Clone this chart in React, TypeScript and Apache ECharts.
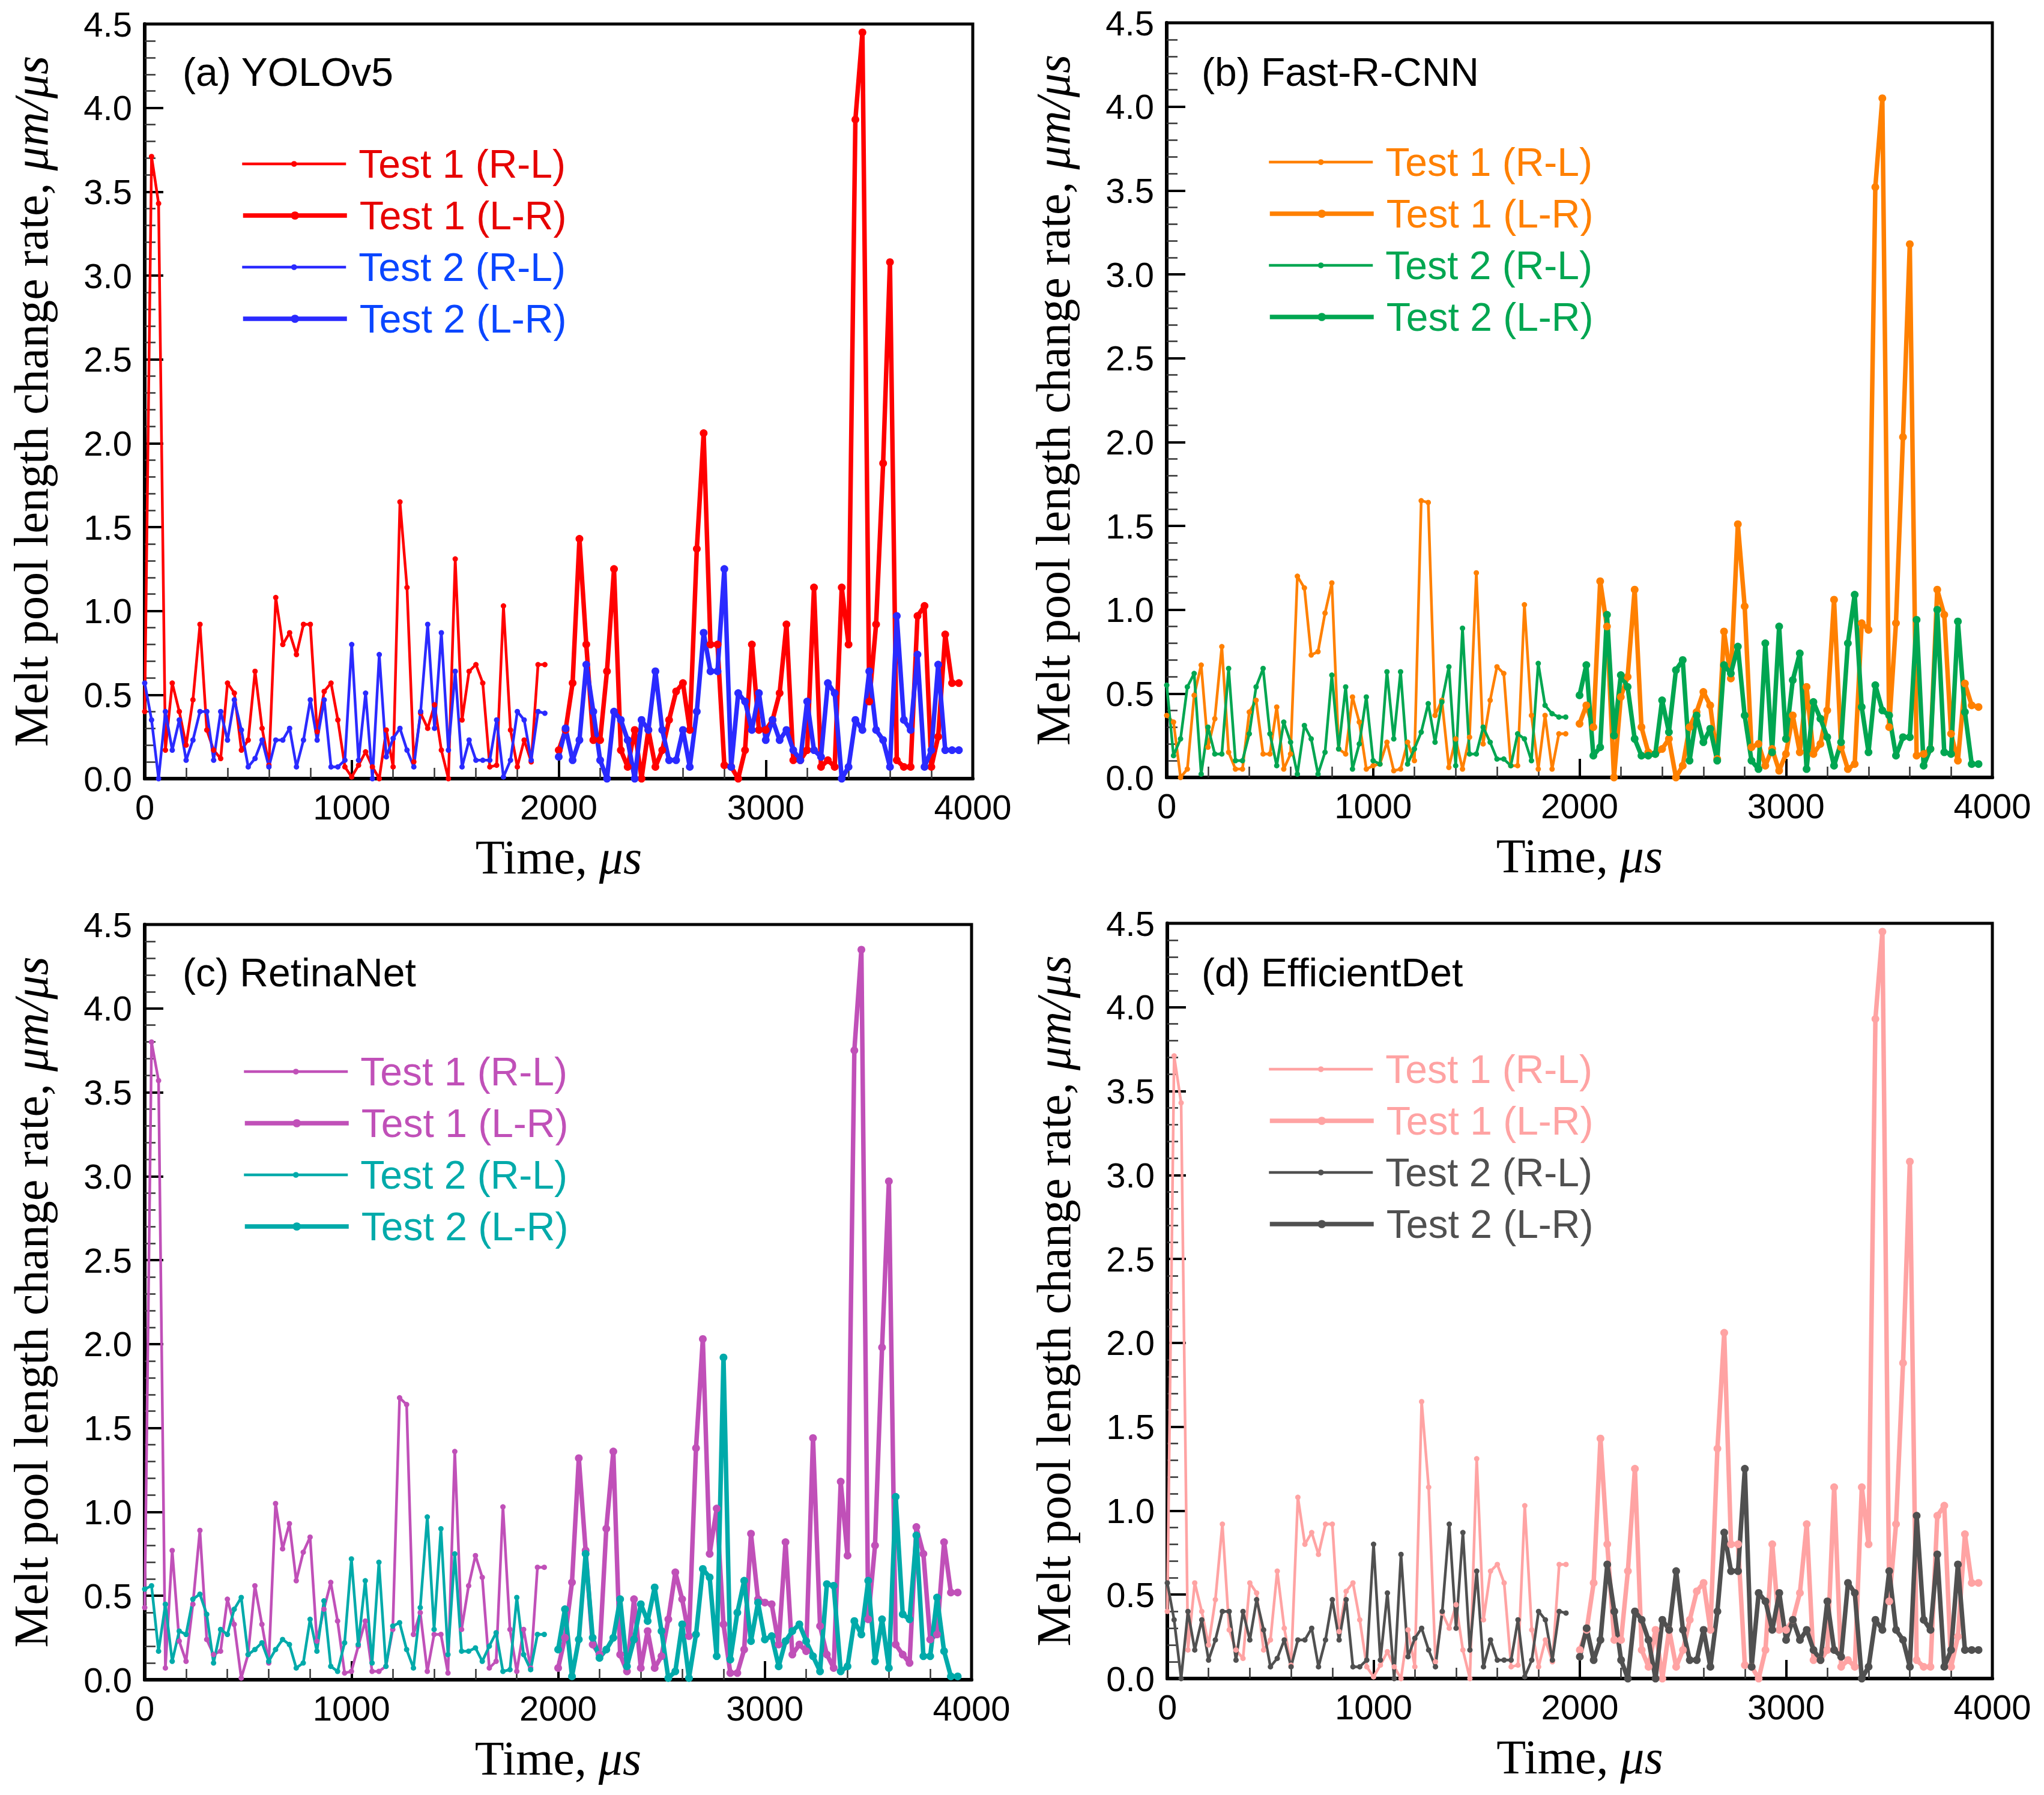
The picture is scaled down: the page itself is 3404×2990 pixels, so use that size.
import React, { useEffect, useRef } from "react";
import * as echarts from "echarts";

// Sampling times (µs)
const TIME_RL = [0, 33, 67, 100, 133, 167, 200, 233, 267, 300, 333, 367, 400, 433, 467, 500, 533, 567, 600, 633, 667, 700, 733, 767, 800, 833, 867, 900, 933, 967, 1000, 1033, 1067, 1100, 1133, 1167, 1200, 1233, 1267, 1300, 1333, 1367, 1400, 1433, 1467, 1500, 1533, 1567, 1600, 1633, 1667, 1700, 1733, 1767, 1800, 1833, 1867, 1900, 1933];
const TIME_LR = [2000, 2033, 2067, 2100, 2133, 2167, 2200, 2233, 2267, 2300, 2333, 2367, 2400, 2433, 2467, 2500, 2533, 2567, 2600, 2633, 2667, 2700, 2733, 2767, 2800, 2833, 2867, 2900, 2933, 2967, 3000, 3033, 3067, 3100, 3133, 3167, 3200, 3233, 3267, 3300, 3333, 3367, 3400, 3433, 3467, 3500, 3533, 3567, 3600, 3633, 3667, 3700, 3733, 3767, 3800, 3833, 3867, 3900, 3933];

// (a) YOLOv5  (also used by (d) EfficientDet)
const YOLO_T1_RL = [0.40, 3.71, 3.43, 0.17, 0.57, 0.40, 0.20, 0.47, 0.92, 0.29, 0.17, 0.12, 0.57, 0.51, 0.17, 0.23, 0.64, 0.30, 0.08, 1.08, 0.80, 0.87, 0.74, 0.92, 0.92, 0.28, 0.52, 0.57, 0.35, 0.07, 0.01, 0.08, 0.16, 0.07, 0.00, 0.29, 0.07, 1.65, 1.14, 0.10, 0.39, 0.30, 0.44, 0.17, 0.00, 1.31, 0.35, 0.64, 0.68, 0.57, 0.07, 0.08, 1.03, 0.29, 0.07, 0.23, 0.10, 0.68, 0.68];
const YOLO_T1_LR = [0.17, 0.29, 0.57, 1.43, 0.80, 0.23, 0.23, 0.64, 1.25, 0.17, 0.07, 0.29, 0.00, 0.29, 0.07, 0.17, 0.35, 0.52, 0.57, 0.29, 1.37, 2.06, 0.80, 0.80, 0.08, 0.07, 0.00, 0.17, 0.80, 0.29, 0.29, 0.35, 0.51, 0.92, 0.11, 0.11, 0.17, 1.14, 0.07, 0.11, 0.07, 1.14, 0.80, 3.93, 4.45, 0.46, 0.92, 1.88, 3.08, 0.11, 0.07, 0.07, 0.97, 1.03, 0.07, 0.25, 0.86, 0.57, 0.57];
const YOLO_T2_RL = [0.57, 0.35, 0.00, 0.40, 0.17, 0.35, 0.11, 0.23, 0.40, 0.40, 0.11, 0.40, 0.23, 0.47, 0.29, 0.07, 0.12, 0.23, 0.07, 0.23, 0.23, 0.30, 0.07, 0.23, 0.47, 0.23, 0.47, 0.07, 0.07, 0.11, 0.80, 0.11, 0.51, 0.00, 0.74, 0.13, 0.24, 0.30, 0.17, 0.07, 0.40, 0.92, 0.30, 0.87, 0.17, 0.64, 0.07, 0.23, 0.11, 0.11, 0.11, 0.35, 0.01, 0.11, 0.40, 0.35, 0.11, 0.40, 0.39];
const YOLO_T2_LR = [0.13, 0.30, 0.11, 0.23, 0.68, 0.40, 0.11, 0.00, 0.40, 0.35, 0.23, 0.00, 0.35, 0.29, 0.64, 0.29, 0.11, 0.11, 0.29, 0.07, 0.40, 0.87, 0.64, 0.64, 1.25, 0.07, 0.51, 0.46, 0.29, 0.51, 0.23, 0.35, 0.23, 0.29, 0.17, 0.11, 0.46, 0.17, 0.13, 0.57, 0.51, 0.00, 0.07, 0.35, 0.29, 0.64, 0.29, 0.23, 0.07, 0.97, 0.35, 0.29, 0.74, 0.07, 0.17, 0.68, 0.17, 0.17, 0.17];

// (b) Fast-R-CNN
const FRCNN_T1_RL = [0.37, 0.33, 0.00, 0.05, 0.49, 0.67, 0.18, 0.35, 0.78, 0.15, 0.05, 0.05, 0.39, 0.46, 0.14, 0.14, 0.42, 0.05, 0.14, 1.20, 1.13, 0.73, 0.75, 0.98, 1.16, 0.17, 0.14, 0.48, 0.33, 0.05, 0.07, 0.08, 0.21, 0.04, 0.05, 0.21, 0.10, 1.65, 1.64, 0.37, 0.46, 0.06, 0.23, 0.05, 0.24, 1.22, 0.20, 0.46, 0.66, 0.62, 0.07, 0.07, 1.03, 0.37, 0.05, 0.37, 0.05, 0.26, 0.26];
const FRCNN_T1_LR = [0.32, 0.43, 0.30, 1.17, 0.90, 0.00, 0.48, 0.60, 1.12, 0.30, 0.15, 0.14, 0.17, 0.23, 0.00, 0.07, 0.30, 0.39, 0.51, 0.43, 0.11, 0.87, 0.59, 1.51, 1.02, 0.18, 0.20, 0.07, 0.17, 0.04, 0.14, 0.37, 0.15, 0.54, 0.14, 0.20, 0.40, 1.06, 0.18, 0.05, 0.08, 0.92, 0.88, 3.52, 4.05, 0.30, 0.92, 2.03, 3.18, 0.13, 0.14, 0.17, 1.12, 0.97, 0.26, 0.10, 0.56, 0.43, 0.42];
const FRCNN_T2_RL = [0.55, 0.13, 0.23, 0.54, 0.62, 0.02, 0.30, 0.14, 0.14, 0.65, 0.10, 0.10, 0.26, 0.54, 0.65, 0.26, 0.07, 0.33, 0.21, 0.02, 0.31, 0.23, 0.02, 0.15, 0.61, 0.17, 0.54, 0.05, 0.20, 0.48, 0.10, 0.08, 0.63, 0.23, 0.63, 0.08, 0.17, 0.27, 0.44, 0.21, 0.45, 0.66, 0.07, 0.89, 0.14, 0.14, 0.30, 0.21, 0.11, 0.11, 0.07, 0.26, 0.23, 0.10, 0.68, 0.43, 0.38, 0.36, 0.36];
const FRCNN_T2_LR = [0.49, 0.67, 0.13, 0.18, 0.97, 0.25, 0.61, 0.54, 0.23, 0.13, 0.13, 0.14, 0.46, 0.27, 0.64, 0.70, 0.10, 0.37, 0.21, 0.29, 0.10, 0.67, 0.62, 0.78, 0.37, 0.10, 0.05, 0.80, 0.15, 0.90, 0.23, 0.58, 0.74, 0.05, 0.45, 0.35, 0.24, 0.07, 0.21, 0.80, 1.09, 0.42, 0.15, 0.55, 0.40, 0.37, 0.13, 0.24, 0.24, 0.94, 0.07, 0.17, 1.00, 0.15, 0.14, 0.93, 0.39, 0.08, 0.08];

// (c) RetinaNet
const RETINA_T1_RL = [0.43, 3.80, 3.57, 0.07, 0.77, 0.23, 0.11, 0.45, 0.89, 0.24, 0.15, 0.17, 0.48, 0.33, 0.01, 0.15, 0.56, 0.33, 0.10, 1.05, 0.78, 0.93, 0.59, 0.76, 0.85, 0.23, 0.42, 0.58, 0.35, 0.04, 0.05, 0.20, 0.35, 0.05, 0.05, 0.08, 0.30, 1.68, 1.64, 0.27, 0.40, 0.05, 0.27, 0.27, 0.04, 1.36, 0.30, 0.56, 0.74, 0.61, 0.07, 0.11, 1.03, 0.30, 0.05, 0.30, 0.07, 0.67, 0.67];
const RETINA_T1_LR = [0.07, 0.25, 0.58, 1.32, 0.77, 0.21, 0.15, 0.90, 1.36, 0.15, 0.05, 0.48, 0.07, 0.29, 0.07, 0.14, 0.36, 0.64, 0.48, 0.26, 1.38, 2.03, 0.75, 1.02, 0.33, 0.04, 0.04, 0.18, 0.87, 0.48, 0.46, 0.45, 0.21, 0.82, 0.15, 0.21, 0.17, 1.44, 0.32, 0.15, 0.07, 1.18, 0.74, 3.75, 4.35, 0.36, 0.80, 1.98, 2.97, 0.21, 0.15, 0.10, 0.91, 0.75, 0.24, 0.27, 0.82, 0.52, 0.52];
const RETINA_T2_RL = [0.54, 0.56, 0.17, 0.45, 0.11, 0.29, 0.27, 0.48, 0.51, 0.39, 0.10, 0.30, 0.27, 0.42, 0.49, 0.15, 0.18, 0.22, 0.11, 0.18, 0.24, 0.21, 0.07, 0.10, 0.36, 0.17, 0.47, 0.08, 0.05, 0.22, 0.72, 0.21, 0.59, 0.10, 0.70, 0.08, 0.32, 0.34, 0.18, 0.07, 0.43, 0.97, 0.30, 0.90, 0.15, 0.75, 0.17, 0.17, 0.19, 0.11, 0.20, 0.28, 0.05, 0.06, 0.49, 0.15, 0.06, 0.27, 0.27];
const RETINA_T2_LR = [0.18, 0.42, 0.02, 0.24, 0.75, 0.25, 0.13, 0.18, 0.25, 0.48, 0.08, 0.24, 0.45, 0.35, 0.55, 0.29, 0.01, 0.05, 0.33, 0.01, 0.27, 0.66, 0.61, 0.14, 1.92, 0.12, 0.40, 0.59, 0.23, 0.46, 0.24, 0.26, 0.08, 0.23, 0.29, 0.33, 0.23, 0.14, 0.05, 0.57, 0.56, 0.05, 0.08, 0.35, 0.27, 0.59, 0.11, 0.36, 0.07, 1.09, 0.39, 0.36, 0.86, 0.14, 0.14, 0.49, 0.17, 0.02, 0.02];

// (d) EfficientDet
const EFFDET_T1_RL = YOLO_T1_RL;
const EFFDET_T1_LR = YOLO_T1_LR;
const EFFDET_T2_RL = YOLO_T2_RL;
const EFFDET_T2_LR = YOLO_T2_LR;

const SERIES_NAMES = ["Test 1 (R-L)", "Test 1 (L-R)", "Test 2 (R-L)", "Test 2 (L-R)"];
const X_NAME = "{r|Time, }{i|μs}";
const Y_NAME = "{r|Melt pool length change rate, }{i|μm/μs}";

const SANS = "'Liberation Sans', Arial, Helvetica, sans-serif";
const SERIF = "'Liberation Serif', 'Times New Roman', Times, serif";

const PANELS = [
  {
    key: "a", title: "(a) YOLOv5", pos: [0, 0],
    values: [YOLO_T1_RL, YOLO_T1_LR, YOLO_T2_RL, YOLO_T2_LR],
    c1: "#ff0000", t1: "#e60000", c2: "#2a2aff", t2: "#0a46ff",
    grid: { left: 241, top: 40, width: 1379, height: 1257 },
    titlePos: [304, 87], legendPos: [401, 240],
  },
  {
    key: "b", title: "(b) Fast-R-CNN", pos: [1702, 0],
    values: [FRCNN_T1_RL, FRCNN_T1_LR, FRCNN_T2_RL, FRCNN_T2_LR],
    c1: "#ff8000", t1: "#ff8000", c2: "#00a651", t2: "#00a651",
    grid: { left: 241, top: 38, width: 1375, height: 1257 },
    titlePos: [299, 87], legendPos: [409, 237],
  },
  {
    key: "c", title: "(c) RetinaNet", pos: [0, 1495],
    values: [RETINA_T1_RL, RETINA_T1_LR, RETINA_T2_RL, RETINA_T2_LR],
    c1: "#c050b8", t1: "#c050b8", c2: "#00aaaa", t2: "#00aaaa",
    grid: { left: 241, top: 45, width: 1377, height: 1258 },
    titlePos: [304, 92], legendPos: [404, 257],
  },
  {
    key: "d", title: "(d) EfficientDet", pos: [1702, 1495],
    values: [EFFDET_T1_RL, EFFDET_T1_LR, EFFDET_T2_RL, EFFDET_T2_LR],
    c1: "#ffa3a3", t1: "#ffa3a3", c2: "#505050", t2: "#505050",
    grid: { left: 242, top: 43, width: 1374, height: 1258 },
    titlePos: [299, 92], legendPos: [409, 253],
  },
];

function makeSeries(name: string, times: number[], vals: number[], color: string, thick: boolean) {
  return {
    name,
    type: "line",
    data: times.map((t, i) => [t, vals[i]]),
    symbol: "circle",
    symbolSize: thick ? 13 : 9,
    showSymbol: true,
    lineStyle: { width: thick ? 7.5 : 4.5, color },
    itemStyle: { color, borderWidth: 0 },
    emphasis: { disabled: true },
    animation: false,
  };
}

function buildOption(p: any) {
  const legendBase = {
    orient: "vertical",
    padding: 0,
    itemWidth: 173,
    selectedMode: false,
    textStyle: { fontSize: 66, fontFamily: SANS, lineHeight: 66, padding: [0, 0, 0, 16] },
  };
  return {
    animation: false,
    backgroundColor: "#ffffff",
    title: {
      text: p.title,
      left: p.titlePos[0],
      top: p.titlePos[1],
      padding: 0,
      textStyle: { fontSize: 66, fontWeight: "normal", fontFamily: SANS, color: "#000", lineHeight: 66 },
    },
    legend: [
      {
        ...legendBase,
        left: p.legendPos[0],
        top: p.legendPos[1],
        itemHeight: 12,
        itemGap: 106,
        lineStyle: { width: 4.5 },
        data: [
          { name: SERIES_NAMES[0], textStyle: { color: p.t1 } },
          { name: SERIES_NAMES[2], textStyle: { color: p.t2 } },
        ],
      },
      {
        ...legendBase,
        left: p.legendPos[0],
        top: p.legendPos[1] + 86,
        itemHeight: 17,
        itemGap: 106,
        lineStyle: { width: 7.5 },
        data: [
          { name: SERIES_NAMES[1], textStyle: { color: p.t1 } },
          { name: SERIES_NAMES[3], textStyle: { color: p.t2 } },
        ],
      },
    ],
    grid: {
      ...p.grid,
      containLabel: false,
      outerBoundsMode: "none",
      show: true,
      borderColor: "#000",
      borderWidth: 5,
      backgroundColor: "transparent",
    },
    xAxis: {
      type: "value",
      min: 0,
      max: 4000,
      interval: 1000,
      name: X_NAME,
      nameLocation: "middle",
      nameGap: 91,
      nameTextStyle: {
        fontSize: 80,
        fontFamily: SERIF,
        color: "#000",
        rich: {
          r: { fontSize: 80, fontFamily: SERIF, color: "#000" },
          i: { fontSize: 80, fontFamily: SERIF, fontStyle: "italic", color: "#000" },
        },
      },
      axisLine: { show: true, onZero: false, lineStyle: { color: "#000", width: 6 } },
      axisTick: { show: true, inside: true, length: 31, lineStyle: { color: "#000", width: 4 } },
      minorTick: { show: true, splitNumber: 5, length: 18, lineStyle: { color: "#333", width: 2.5 } },
      splitLine: { show: false },
      minorSplitLine: { show: false },
      axisLabel: { fontSize: 58, fontFamily: SANS, color: "#000", margin: 18, formatter: (v: number) => String(v) },
    },
    yAxis: {
      type: "value",
      min: 0,
      max: 4.5,
      interval: 0.5,
      name: Y_NAME,
      nameLocation: "middle",
      nameRotate: 90,
      nameGap: 149,
      nameTextStyle: {
        fontSize: 80,
        fontFamily: SERIF,
        color: "#000",
        rich: {
          r: { fontSize: 80, fontFamily: SERIF, color: "#000" },
          i: { fontSize: 80, fontFamily: SERIF, fontStyle: "italic", color: "#000" },
        },
      },
      axisLine: { show: true, onZero: false, lineStyle: { color: "#000", width: 6 } },
      axisTick: { show: true, inside: true, length: 31, lineStyle: { color: "#000", width: 4 } },
      minorTick: { show: true, splitNumber: 5, length: 18, lineStyle: { color: "#333", width: 2.5 } },
      splitLine: { show: false },
      minorSplitLine: { show: false },
      axisLabel: { fontSize: 58, fontFamily: SANS, color: "#000", margin: 21, formatter: (v: number) => v.toFixed(1) },
    },
    series: [
      makeSeries(SERIES_NAMES[0], TIME_RL, p.values[0], p.c1, false),
      makeSeries(SERIES_NAMES[1], TIME_LR, p.values[1], p.c1, true),
      makeSeries(SERIES_NAMES[2], TIME_RL, p.values[2], p.c2, false),
      makeSeries(SERIES_NAMES[3], TIME_LR, p.values[3], p.c2, true),
    ],
  };
}

function Panel({ cfg }: { cfg: any }) {
  const ref = useRef<HTMLDivElement>(null);
  useEffect(() => {
    if (!ref.current) return;
    const chart = echarts.init(ref.current, null, { renderer: "svg" });
    chart.setOption(buildOption(cfg) as any);
    return () => chart.dispose();
  }, [cfg]);
  return (
    <div
      ref={ref}
      style={{ position: "absolute", left: cfg.pos[0], top: cfg.pos[1], width: 1702, height: 1495 }}
    />
  );
}

export default function App() {
  useEffect(() => {
    document.body.style.margin = "0";
  }, []);
  return (
    <div style={{ position: "relative", width: 3404, height: 2990, background: "#fff", overflow: "hidden" }}>
      {PANELS.map((p) => (
        <Panel key={p.key} cfg={p} />
      ))}
    </div>
  );
}
